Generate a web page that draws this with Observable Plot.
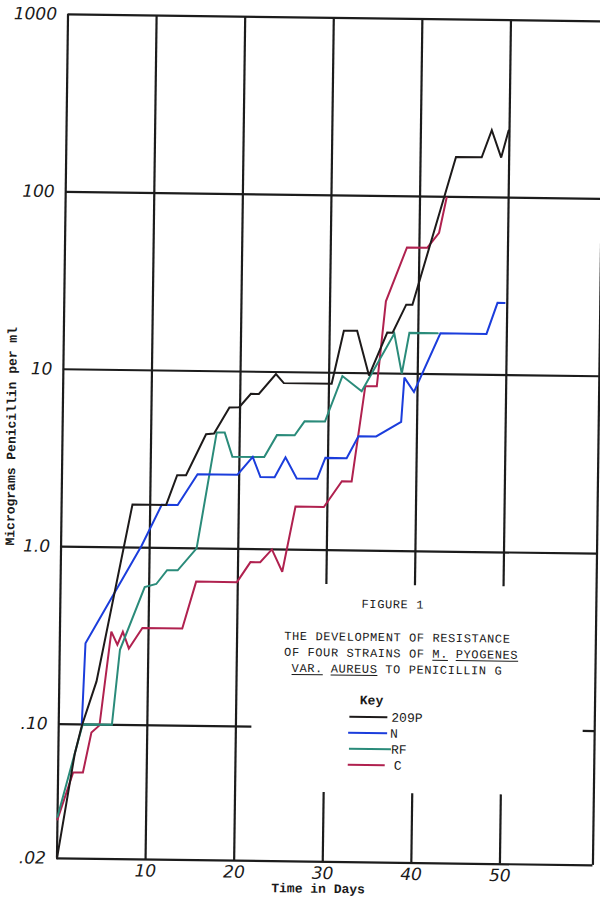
<!DOCTYPE html>
<html>
<head>
<meta charset="utf-8">
<script src="https://cdn.jsdelivr.net/npm/d3@7"></script>
<script src="https://cdn.jsdelivr.net/npm/@observablehq/plot@0.6"></script>
<style>
  html, body { margin: 0; padding: 0; background: #fff; overflow: hidden; }
  #wrap { position: relative; width: 600px; height: 900px; transform: rotate(0.75deg); transform-origin: 300px 438px; }
  #wrap svg { position: absolute; left: 0; top: 0; }
  .t { position: absolute; transform: translate(-50%, -50%); white-space: nowrap; font-family: "Liberation Mono", "DejaVu Sans Mono", monospace; font-size: 12px; letter-spacing: 0.6px; line-height: 1; color: #1a1a1a; }
  .b { font-weight: bold; font-size: 13px; letter-spacing: 0; }
  .l { position: absolute; transform: translate(0, -50%); white-space: nowrap; font-family: "Liberation Mono", monospace; font-size: 13px; line-height: 1; color: #1a1a1a; }
  .sw { position: absolute; height: 0; border-top: 2px solid; }
  u { text-decoration-thickness: 1px; text-underline-offset: 2px; }
</style>
</head>
<body>
<div id="wrap"></div>
<script>
// ---- data ----
const strains = ["209P", "N", "RF", "C"];
const colors = ["#1d1a1a", "#1b3ddc", "#2a8b7a", "#b0214f"];

const days209P = [0, 1.85, 2.6, 4.2, 8.0, 11.8, 13.0, 14.0, 16.2, 17.1, 18.8, 19.9, 21.2, 22.1, 24.0, 24.9, 30.3, 31.6, 33.1, 34.5, 36.5, 37.1, 38.6, 39.3, 44.0, 46.9, 48.0, 49.1, 49.9];
const vals209P = [0.0175, 0.068, 0.098, 0.175, 1.75, 1.75, 2.58, 2.58, 4.41, 4.45, 6.26, 6.3, 7.5, 7.5, 9.74, 8.67, 8.67, 17.3, 17.3, 9.7, 17, 17, 24.5, 24.5, 168, 168, 239, 168, 239];

const daysN = [2.6, 2.9, 9.1, 11.3, 13.1, 15.3, 19.8, 21.5, 22.4, 24.0, 25.2, 26.5, 28.8, 29.7, 32.1, 33.4, 35.4, 38.2, 38.5, 39.6, 42.5, 47.7, 48.9, 49.7];
const valsN = [0.1, 0.287, 1.03, 1.75, 1.75, 2.62, 2.62, 3.31, 2.55, 2.55, 3.31, 2.52, 2.52, 3.31, 3.31, 4.41, 4.41, 5.35, 9.5, 7.9, 17, 17, 25.5, 25.5];

const daysRF = [0, 2.7, 6.0, 6.8, 9.5, 10.8, 12.0, 13.2, 15.3, 17.4, 18.3, 19.2, 22.8, 24.2, 26.2, 27.3, 29.6, 31.5, 33.7, 37.3, 38.2, 39.0, 42.2];
const valsRF = [0.030, 0.1, 0.1, 0.265, 0.60, 0.626, 0.75, 0.75, 1.0, 4.52, 4.52, 3.31, 3.31, 4.41, 4.41, 5.3, 5.3, 9.6, 7.9, 16.8, 10, 17, 17];

const daysC = [0, 1.7, 2.8, 3.7, 4.6, 5.8, 6.5, 7.1, 7.8, 9.3, 13.8, 15.3, 19.9, 21.4, 22.5, 23.8, 25.0, 26.4, 29.6, 31.6, 32.7, 34.1, 35.4, 36.3, 38.6, 40.9, 42.2, 43.0];
const valsC = [0.029, 0.0535, 0.0535, 0.090, 0.099, 0.335, 0.283, 0.335, 0.27, 0.353, 0.353, 0.65, 0.65, 0.845, 0.845, 1.0, 0.75, 1.75, 1.75, 2.45, 2.45, 8.45, 8.45, 25.5, 51.5, 51.5, 62.6, 98.7];

// axes / ticks
const xMax = 60.5;
const yBottom = 0.0175, yTop = 1000;
const xTicks = [10, 20, 30, 40, 50];
const xTickLabels = ["10", "20", "30", "40", "50"];
const yTicks = [yBottom, 0.1, 1, 10, 100, 1000];
const yTickLabels = [".02", ".10", "1.0", "10", "100", "1000"];

// grid layout of the hand-drawn sheet
const xGridFull = [0, 10, 20, xMax];
const xGridBroken = [30, 40, 50];
const gapLow = 0.043, gapHigh = 0.64;
const yGridFull = [yBottom, 1, 10, 100, 1000];
const tenthLineEnd = 21.8;
const rightStubStart = 59.2;

// ---- build table ----
const seriesDays = [days209P, daysN, daysRF, daysC];
const seriesVals = [vals209P, valsN, valsRF, valsC];
const rows = [];
strains.forEach((s, k) => seriesDays[k].forEach((d, i) => rows.push({strain: s, day: d, value: seriesVals[k][i]})));
const drawOrder = ["C", "RF", "N", "209P"];
const ordered = drawOrder.flatMap(s => rows.filter(r => r.strain === s));

const xLab = new Map(xTicks.map((t, i) => [t, xTickLabels[i]]));
const yLab = new Map(yTicks.map((t, i) => [t, yTickLabels[i]]));
const gridColor = "#1c1c1c", gw = 2.2;
const tickFont = "DejaVu Sans, sans-serif";

const chart = Plot.plot({
  width: 600, height: 900,
  marginLeft: 62, marginRight: 2, marginTop: 17, marginBottom: 39,
  x: {domain: [0, xMax], label: null},
  y: {type: "log", domain: [yBottom, yTop], label: null},
  color: {domain: strains, range: colors},
  style: {background: "transparent", overflow: "visible"},
  marks: [
    Plot.ruleY(yGridFull, {x1: 0, x2: xMax, stroke: gridColor, strokeWidth: gw}),
    Plot.ruleY([0.1], {x1: 0, x2: tenthLineEnd, stroke: gridColor, strokeWidth: gw}),
    Plot.ruleY([0.1], {x1: rightStubStart, x2: xMax, stroke: gridColor, strokeWidth: gw}),
    Plot.ruleX(xGridFull, {y1: yBottom, y2: yTop, stroke: gridColor, strokeWidth: gw}),
    Plot.ruleX(xGridBroken, {y1: gapHigh, y2: yTop, stroke: gridColor, strokeWidth: gw}),
    Plot.ruleX(xGridBroken, {y1: yBottom, y2: gapLow, stroke: gridColor, strokeWidth: gw}),
    Plot.line(ordered, {x: "day", y: "value", z: "strain", stroke: "strain", strokeWidth: 2, strokeLinejoin: "miter", strokeMiterlimit: 3}),
    Plot.axisY(yTicks, {tickSize: 0, tickPadding: 11, tickFormat: d => yLab.get(d), fontSize: 17, fontStyle: "italic", fontFamily: tickFont, fill: "#1a1a1a", label: null}),
    Plot.axisX(xTicks, {tickSize: 0, tickPadding: 5, tickFormat: d => xLab.get(d), fontSize: 17, fontStyle: "italic", fontFamily: tickFont, fill: "#1a1a1a", label: null})
  ]
});

const wrap = document.getElementById("wrap");
wrap.appendChild(chart);

// ---- texts, caption and key ----
const add = (html, cls, x, y, extra = "") => {
  const d = document.createElement("div");
  d.className = cls; d.style.left = x + "px"; d.style.top = y + "px";
  if (extra) d.style.cssText += extra;
  d.innerHTML = html; wrap.appendChild(d);
};
add("Micrograms Penicillin per ml", "t b", 12, 440, "transform: translate(-50%,-50%) rotate(-90deg);");
add("Time in Days", "t b", 324, 889);
add("FIGURE 1", "t", 395, 604);
add("THE DEVELOPMENT OF RESISTANCE", "t", 400, 637);
add("OF FOUR STRAINS OF <u>M.</u> <u>PYOGENES</u>", "t", 404, 653);
add("<u>VAR.</u> <u>AUREUS</u> TO PENICILLIN G", "t", 400, 669);
add("Key", "t b", 375, 700);

const keyY = [716, 732, 748, 764];
const keyX1 = [353, 352, 353, 352];
const keyX2 = [391, 391, 395, 389];
const keyTxt = [395, 394, 395, 398];
strains.forEach((s, i) => {
  const sw = document.createElement("div");
  sw.className = "sw";
  sw.style.left = keyX1[i] + "px"; sw.style.top = (keyY[i] - 1) + "px";
  sw.style.width = (keyX2[i] - keyX1[i]) + "px"; sw.style.borderTopColor = colors[i];
  wrap.appendChild(sw);
  add(s, "l", keyTxt[i], keyY[i] + 1);
});
</script>
</body>
</html>
